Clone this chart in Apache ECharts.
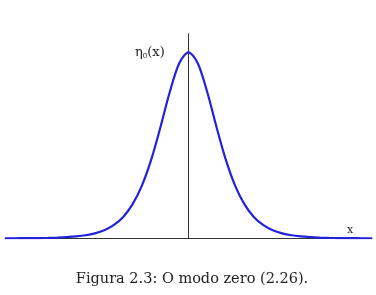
<!DOCTYPE html>
<html>
<head>
<meta charset="utf-8">
<script src="https://cdn.jsdelivr.net/npm/echarts@6/dist/echarts.min.js"></script>
<style>
  html, body { margin: 0; padding: 0; background: #fff; }
  #main { width: 376px; height: 295px; }
</style>
</head>
<body>
<div id="main"></div>
<script>
// pontos (eixo x em unidades, eta normalizado ao pico)
var xs = [-4.9, -4.75, -4.5, -4.25, -4, -3.75, -3.5, -3.25, -3, -2.75, -2.5, -2.25, -2, -1.75, -1.5, -1.25, -1, -0.75, -0.5, -0.25,
  0, 0.25, 0.5, 0.75, 1, 1.25, 1.5, 1.75, 2, 2.25, 2.5, 2.75, 3, 3.25, 3.5, 3.75, 4, 4.25, 4.5, 4.75, 4.9];
var eta = [0.0002, 0.0003, 0.0005, 0.0008, 0.0013, 0.0022, 0.0036, 0.006, 0.0099, 0.0162, 0.0266, 0.0435, 0.0707, 0.1138, 0.1807, 0.2804, 0.42, 0.5966, 0.7864, 0.94,
  1, 0.94, 0.7864, 0.5966, 0.42, 0.2804, 0.1807, 0.1138, 0.0707, 0.0435, 0.0266, 0.0162, 0.0099, 0.006, 0.0036, 0.0022, 0.0013, 0.0008, 0.0005, 0.0003, 0.0002];

var caption = 'Figura 2.3: O modo zero (2.26).';

var pts = [];
for (var i = 0; i < xs.length; i++) {
  pts.push([xs[i], eta[i]]);
}

var chart = echarts.init(document.getElementById('main'));
var option = {
  animation: false,
  grid: { left: 5, right: 4, top: 33.7, bottom: 56.7 },
  xAxis: {
    type: 'value',
    min: -4.9,
    max: 4.9,
    axisLine: { show: true, lineStyle: { color: '#333', width: 1 } },
    axisTick: { show: false },
    axisLabel: { show: false },
    splitLine: { show: false }
  },
  yAxis: {
    type: 'value',
    min: 0,
    max: 1.1,
    axisLine: { show: true, onZero: true, lineStyle: { color: '#333', width: 1 } },
    axisTick: { show: false },
    axisLabel: { show: false },
    splitLine: { show: false }
  },
  series: [{
    type: 'line',
    data: pts,
    smooth: 0.3,
    showSymbol: false,
    lineStyle: { color: '#2222dd', width: 2.2 }
  }],
  graphic: [
    {
      type: 'text',
      left: 135,
      top: 46,
      style: {
        text: '{a|η}{s|0}{a|(x)}',
        rich: {
          a: { fontFamily: 'DejaVu Serif', fontSize: 13, fill: '#222' },
          s: { fontFamily: 'DejaVu Serif', fontSize: 7, fill: '#222', verticalAlign: 'bottom', padding: [7, 0, 0, 0] }
        }
      }
    },
    {
      type: 'text',
      left: 347,
      top: 225,
      style: { text: 'x', fontFamily: 'DejaVu Serif', fontSize: 11, fill: '#222' }
    },
    {
      type: 'text',
      x: 192,
      y: 279,
      style: {
        text: caption,
        fontFamily: 'DejaVu Serif',
        fontSize: 14.5,
        fill: '#222',
        align: 'center',
        verticalAlign: 'middle'
      }
    }
  ]
};
chart.setOption(option);
</script>
</body>
</html>
